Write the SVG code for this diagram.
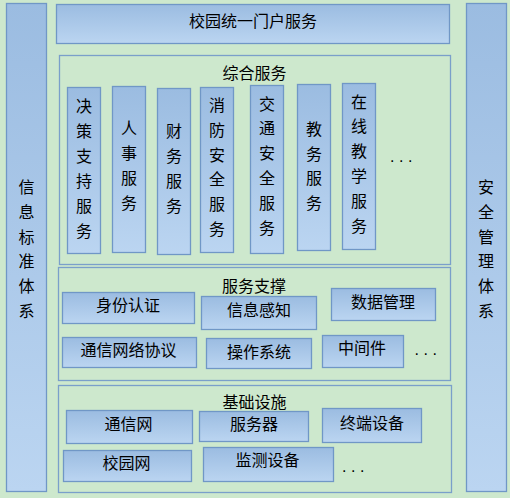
<svg xmlns="http://www.w3.org/2000/svg" width="510" height="498" viewBox="0 0 510 498">
<defs>
<linearGradient id="g" x1="0" y1="0" x2="0" y2="1">
<stop offset="0" stop-color="#9bbce1"/>
<stop offset="1" stop-color="#bbd5f1"/>
</linearGradient>
<style>
.box{fill:url(#g);stroke:#7097c6;stroke-width:1.3}
.sec{fill:#cde8cd;stroke:#7a9fca;stroke-width:1.3}
text{font-family:"Noto Sans CJK SC","Noto Sans",sans-serif;font-size:16px;fill:#000}
.c{text-anchor:middle}
.dots{font-family:"Liberation Sans",sans-serif;letter-spacing:4.5px}
</style>
</defs>
<rect width="510" height="498" fill="#cde8cd"/>
<g id="left-bar"><rect class="box" x="6.5" y="3.5" width="40" height="488"/>
<text class="c"><tspan x="26.5" y="193">信</tspan><tspan x="26.5" dy="24.8">息</tspan><tspan x="26.5" dy="24.8">标</tspan><tspan x="26.5" dy="24.8">准</tspan><tspan x="26.5" dy="24.8">体</tspan><tspan x="26.5" dy="24.8">系</tspan></text></g>
<g id="right-bar"><rect class="box" x="466.5" y="3.5" width="40" height="488"/>
<text class="c"><tspan x="486" y="193">安</tspan><tspan x="486" dy="24.8">全</tspan><tspan x="486" dy="24.8">管</tspan><tspan x="486" dy="24.8">理</tspan><tspan x="486" dy="24.8">体</tspan><tspan x="486" dy="24.8">系</tspan></text></g>
<g id="portal"><rect class="box" x="56.5" y="4.5" width="393" height="39"/><text class="c" x="253" y="27">校园统一门户服务</text></g>
<g id="sec-services"><rect class="sec" x="59.5" y="55.5" width="391" height="209"/><text class="c" x="254.5" y="78.5">综合服务</text></g>
<g id="s1"><rect class="box" x="67.5" y="87.5" width="33" height="166"/>
<text class="c"><tspan x="84" y="111.5">决</tspan><tspan x="84" dy="25">策</tspan><tspan x="84" dy="25">支</tspan><tspan x="84" dy="25">持</tspan><tspan x="84" dy="25">服</tspan><tspan x="84" dy="25">务</tspan></text></g>
<g id="s2"><rect class="box" x="112.5" y="86.5" width="33" height="166"/>
<text class="c"><tspan x="129" y="134">人</tspan><tspan x="129" dy="25">事</tspan><tspan x="129" dy="25">服</tspan><tspan x="129" dy="25">务</tspan></text></g>
<g id="s3"><rect class="box" x="157.5" y="88.5" width="33" height="166"/>
<text class="c"><tspan x="174" y="136.5">财</tspan><tspan x="174" dy="25">务</tspan><tspan x="174" dy="25">服</tspan><tspan x="174" dy="25">务</tspan></text></g>
<g id="s4"><rect class="box" x="200.5" y="87.5" width="33" height="165"/>
<text class="c"><tspan x="217" y="111">消</tspan><tspan x="217" dy="24.8">防</tspan><tspan x="217" dy="24.8">安</tspan><tspan x="217" dy="24.8">全</tspan><tspan x="217" dy="24.8">服</tspan><tspan x="217" dy="24.8">务</tspan></text></g>
<g id="s5"><rect class="box" x="250.5" y="85.5" width="33" height="168"/>
<text class="c"><tspan x="267" y="109.5">交</tspan><tspan x="267" dy="24.9">通</tspan><tspan x="267" dy="24.9">安</tspan><tspan x="267" dy="24.9">全</tspan><tspan x="267" dy="24.9">服</tspan><tspan x="267" dy="24.9">务</tspan></text></g>
<g id="s6"><rect class="box" x="297.5" y="84.5" width="33" height="166"/>
<text class="c"><tspan x="314" y="135">教</tspan><tspan x="314" dy="24.5">务</tspan><tspan x="314" dy="24.5">服</tspan><tspan x="314" dy="24.5">务</tspan></text></g>
<g id="s7"><rect class="box" x="342.5" y="83.5" width="33" height="166"/>
<text class="c"><tspan x="359" y="107.5">在</tspan><tspan x="359" dy="24.9">线</tspan><tspan x="359" dy="24.9">教</tspan><tspan x="359" dy="24.9">学</tspan><tspan x="359" dy="24.9">服</tspan><tspan x="359" dy="24.9">务</tspan></text></g>
<text class="dots" x="390" y="161.5">...</text>
<g id="sec-support"><rect class="sec" x="58.5" y="267.5" width="392" height="113"/><text class="c" x="254" y="292">服务支撑</text></g>
<g id="b-auth"><rect class="box" x="62.5" y="292.5" width="132" height="31"/><text class="c" x="128" y="311">身份认证</text></g>
<g id="b-sense"><rect class="box" x="201.5" y="296.5" width="115" height="33"/><text class="c" x="259" y="316">信息感知</text></g>
<g id="b-data"><rect class="box" x="331.5" y="288.5" width="104" height="32"/><text class="c" x="383" y="307.5">数据管理</text></g>
<g id="b-proto"><rect class="box" x="62.5" y="337.5" width="134" height="30"/><text class="c" x="128.5" y="356">通信网络协议</text></g>
<g id="b-os"><rect class="box" x="206.5" y="338.5" width="105" height="30"/><text class="c" x="259" y="358">操作系统</text></g>
<g id="b-mid"><rect class="box" x="322.5" y="335.5" width="81" height="32"/><text class="c" x="362" y="353.5">中间件</text></g>
<text class="dots" x="414.5" y="355">...</text>
<g id="sec-infra"><rect class="sec" x="58.5" y="385.5" width="393" height="107"/><text class="c" x="254.5" y="407.5">基础设施</text></g>
<g id="b-net"><rect class="box" x="66.5" y="410.5" width="126" height="33"/><text class="c" x="128.5" y="429.5">通信网</text></g>
<g id="b-server"><rect class="box" x="199.5" y="411.5" width="109" height="30"/><text class="c" x="254" y="430">服务器</text></g>
<g id="b-term"><rect class="box" x="322.5" y="408.5" width="99" height="34"/><text class="c" x="372" y="428.5">终端设备</text></g>
<g id="b-campus"><rect class="box" x="63.5" y="450.5" width="128" height="31"/><text class="c" x="126.5" y="469">校园网</text></g>
<g id="b-monitor"><rect class="box" x="203.5" y="447.5" width="130" height="34"/><text class="c" x="267.5" y="466">监测设备</text></g>
<text class="dots" x="342" y="471.5">...</text>
<g id="connectors"></g>
</svg>
